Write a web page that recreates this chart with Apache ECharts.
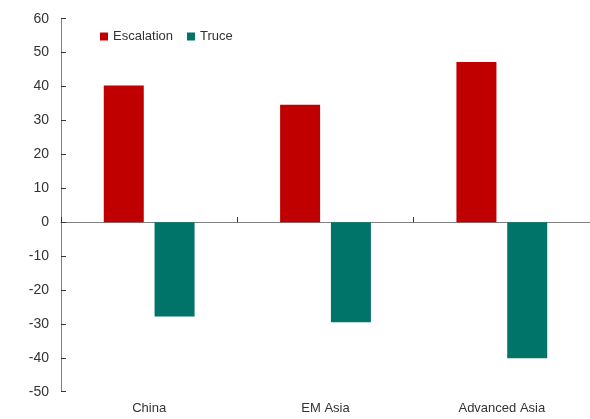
<!DOCTYPE html>
<html>
<head>
<meta charset="utf-8">
<script src="https://cdn.jsdelivr.net/npm/echarts@6/dist/echarts.min.js"></script>
<style>
  html, body { margin: 0; padding: 0; background: #fff; }
  #chart { width: 590px; height: 419px; }
</style>
</head>
<body>
<div id="chart"></div>
<script>
const categories = ['China', 'EM Asia', 'Advanced Asia'];
const escalation = [40.3, 34.6, 47.2];
const truce = [-27.8, -29.5, -40.1];

const font = 'Liberation Sans, Arial, sans-serif';

const chart = echarts.init(document.getElementById('chart'));
const option = {
  animation: false,
  textStyle: { fontFamily: font },
  legend: {
    data: ['Escalation', 'Truce'],
    icon: 'rect',
    left: 95,
    top: 25,
    itemWidth: 8,
    itemHeight: 8,
    itemGap: 14,
    textStyle: { fontSize: 13, color: '#333', fontFamily: font }
  },
  grid: { left: 61, top: 18.7, width: 532, bottom: 27.3 },
  xAxis: [{
    type: 'category',
    data: categories,
    position: 'bottom',
    axisLine: { show: false, onZero: false },
    axisTick: { show: false },
    axisLabel: { fontSize: 13, color: '#333', margin: 10, fontFamily: font }
  }, {
    type: 'category',
    data: categories,
    position: 'top',
    axisLine: { show: true, onZero: true, lineStyle: { color: '#808080', width: 1 } },
    axisTick: { show: true, inside: false, length: 5, lineStyle: { color: '#333' } },
    axisLabel: { show: false }
  }],
  yAxis: {
    type: 'value',
    min: -50,
    max: 60,
    interval: 10,
    axisLine: { show: true, lineStyle: { color: '#808080', width: 1 } },
    axisTick: { show: true, inside: true, length: 5, lineStyle: { color: '#333' } },
    axisLabel: { fontSize: 14, color: '#333', margin: 12, fontFamily: font },
    splitLine: { show: false }
  },
  series: [{
    name: 'Escalation',
    type: 'bar',
    xAxisIndex: 0,
    data: escalation,
    barWidth: 40,
    barGap: '27%',
    itemStyle: { color: '#C00000' }
  }, {
    name: 'Truce',
    type: 'bar',
    xAxisIndex: 0,
    data: truce,
    barWidth: 40,
    barGap: '27%',
    itemStyle: { color: '#007468' }
  }]
};
chart.setOption(option);
</script>
</body>
</html>
